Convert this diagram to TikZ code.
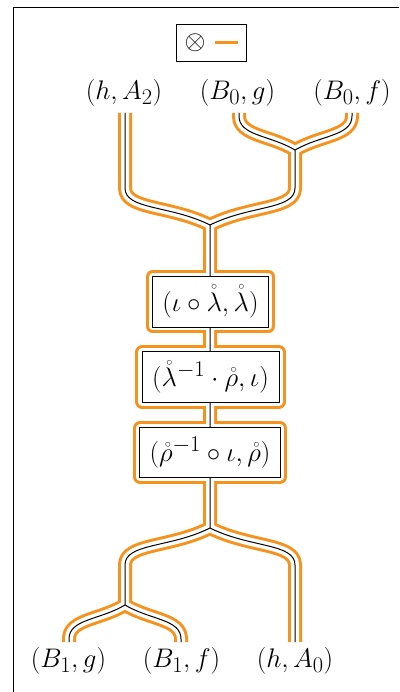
\documentclass[tikz,border=0pt]{standalone}
\definecolor{surf}{RGB}{246,146,30}
\pgfdeclarelayer{orangelyr}
\pgfdeclarelayer{whitelyr}
\pgfdeclarelayer{wirelyr}
\pgfsetlayers{orangelyr,whitelyr,wirelyr,main}
\newcommand\allwires{%
  (t1) -- (125,188) .. controls (125,210) and (170,205) .. (m2) -- (m3)
  (t2) -- (239,116) .. controls (239,136) and (270,135) .. (m1) -- (295,188) .. controls (295,210) and (250,205) .. (m2) -- (m3)
  (t3) -- (352,116) .. controls (352,136) and (321,135) .. (m1) -- (295,188) .. controls (295,210) and (250,205) .. (m2) -- (m3)
  (m2) -- (m3) .. controls (170,548) and (125,543) .. (125,565) -- (m4) .. controls (100,620) and (69,619) .. (69,639) -- (s1)
  (m2) -- (m3) .. controls (170,548) and (125,543) .. (125,565) -- (m4) .. controls (150,620) and (181,619) .. (181,639) -- (s2)
  (m2) -- (m3) .. controls (250,548) and (295,543) .. (295,565) -- (s3)}
\begin{document}
\begin{tikzpicture}[x=1pt,y=-1pt,
  txt/.style={font=\Huge, scale=1.08},
  orangelayer/.style={draw=surf, line width=14pt, line join=round},
  whitelayer/.style={draw=white, line width=8pt, line join=round},
  wire/.style={draw=black, line width=1pt, line join=round},
  morph/.style={txt, draw=black, fill=white, line width=0.8pt, inner xsep=9.5pt, inner ysep=8.5pt},
  lbl/.style={txt, anchor=base, inner sep=0pt}]
\useasboundingbox (0,0) rectangle (399,692);
% frame
\draw[line width=1pt] (13.5,692) -- (13.5,7.5) -- (399,7.5);
% legend
\node[draw, line width=0.8pt, minimum width=70pt, minimum height=37pt, inner sep=0pt] (leg) at (211,42.5) {};
\node[txt, inner sep=0pt] (ot) at (195,43) {$\otimes$};
\coordinate (lgA) at (215,43);
\coordinate (lgB) at (238,43);
\draw[surf, line width=3pt] (lgA) -- (lgB);
% labels
\node[lbl] (l1) at (124,99.5) {$(h,A_2)$};
\node[lbl] (l2) at (237.5,99.5) {$(B_0,g)$};
\node[lbl] (l3) at (352,99.5) {$(B_0,f)$};
\node[lbl] (l4) at (68.5,667) {$(B_1,g)$};
\node[lbl] (l5) at (181.5,667) {$(B_1,f)$};
\node[lbl] (l6) at (295,667) {$(h,A_0)$};
% coordinates
\coordinate (t1) at (125,113);
\coordinate (t2) at (239,113);
\coordinate (t3) at (352,113);
\coordinate (s1) at (69,642);
\coordinate (s2) at (181,642);
\coordinate (s3) at (295,642);
\coordinate (m1) at (295,150);
\coordinate (m2) at (210,225);
\coordinate (m3) at (210,528);
\coordinate (m4) at (125,605);
% boxes
\node[morph] (b1) at (210.5,301.5) {$(\iota\circ\mathring{\lambda},\mathring{\lambda})$};
\node[morph] (b2) at (210.5,377) {$(\mathring{\lambda}^{-1}\cdot\mathring{\rho},\iota)$};
\node[morph] (b3) at (210,452.5) {$(\mathring{\rho}^{-1}\circ\iota,\mathring{\rho})$};
\begin{pgfonlayer}{orangelyr}
  \path[orangelayer] \allwires;
  \foreach \b in {b1,b2,b3}
    \path[orangelayer, fill=surf] ([shift={(1,1)}]\b.north west) rectangle ([shift={(-1,-1)}]\b.south east);
\end{pgfonlayer}
\begin{pgfonlayer}{whitelyr}
  \path[whitelayer] \allwires;
  \foreach \b in {b1,b2,b3}
    \path[whitelayer, fill=white] ([shift={(1,1)}]\b.north west) rectangle ([shift={(-1,-1)}]\b.south east);
\end{pgfonlayer}
\begin{pgfonlayer}{wirelyr}
  \path[wire] \allwires;
\end{pgfonlayer}
\end{tikzpicture}
\end{document}
